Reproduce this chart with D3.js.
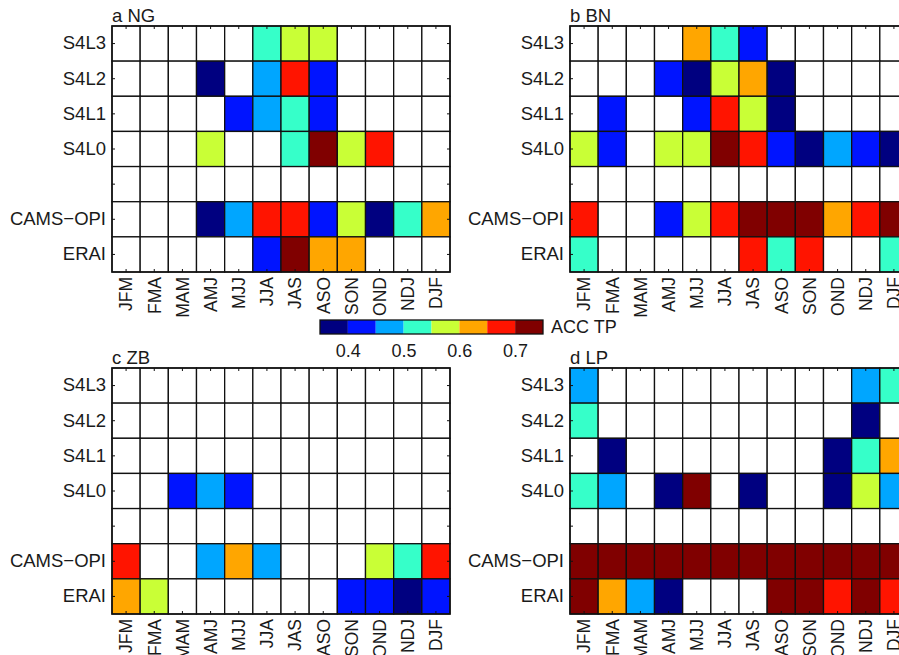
<!DOCTYPE html>
<html lang="en">
<head>
<meta charset="UTF-8">
<title>ACC TP</title>
<script src="https://d3js.org/d3.v7.min.js"></script>
<style>
  body { margin: 0; background: #fff; }
  text { font-family: "Liberation Sans", Arial, Helvetica, sans-serif; fill: #1a1a1a; }
</style>
</head>
<body>
<script>
var N = null;

var seasons = ["JFM", "FMA", "MAM", "AMJ", "MJJ", "JJA", "JAS", "ASO", "SON", "OND", "NDJ", "DJF"];
var rowNames = ["S4L3", "S4L2", "S4L1", "S4L0", "", "CAMS\u2212OPI", "ERAI"];
var colorTicks = [0.4, 0.5, 0.6, 0.7];
var colorDomain = [0.35, 0.75];
var colorRange = ["#000080", "#0014ff", "#00a6ff", "#36ffc9", "#c9ff36", "#ffa600", "#ff1400", "#800000"];

// values read as middle of the colour bins (0.05 wide), null = not significant
var ngValues = [
  [N, N, N, N, N, .525, .575, .575, N, N, N, N],
  [N, N, N, .375, N, .475, .675, .425, N, N, N, N],
  [N, N, N, N, .425, .475, .525, .425, N, N, N, N],
  [N, N, N, .575, N, N, .525, .725, .575, .675, N, N],
  [N, N, N, N, N, N, N, N, N, N, N, N],
  [N, N, N, .375, .475, .675, .675, .425, .575, .375, .525, .625],
  [N, N, N, N, N, .425, .725, .625, .625, N, N, N]
];
var bnValues = [
  [N, N, N, N, .625, .525, .425, N, N, N, N, N],
  [N, N, N, .425, .375, .575, .625, .375, N, N, N, N],
  [N, .425, N, N, .425, .675, .575, .375, N, N, N, N],
  [.575, .425, N, .575, .575, .725, .675, .425, .375, .475, .425, .375],
  [N, N, N, N, N, N, N, N, N, N, N, N],
  [.675, N, N, .425, .575, .675, .725, .725, .725, .625, .675, .725],
  [.525, N, N, N, N, N, .675, .525, .675, N, N, .525]
];
var zbValues = [
  [N, N, N, N, N, N, N, N, N, N, N, N],
  [N, N, N, N, N, N, N, N, N, N, N, N],
  [N, N, N, N, N, N, N, N, N, N, N, N],
  [N, N, .425, .475, .425, N, N, N, N, N, N, N],
  [N, N, N, N, N, N, N, N, N, N, N, N],
  [.675, N, N, .475, .625, .475, N, N, N, .575, .525, .675],
  [.625, .575, N, N, N, N, N, N, .425, .425, .375, .425]
];
var lpValues = [
  [.475, N, N, N, N, N, N, N, N, N, .475, .525],
  [.525, N, N, N, N, N, N, N, N, N, .375, N],
  [N, .375, N, N, N, N, N, N, N, .375, .525, .625],
  [.525, .475, N, .375, .725, N, .375, N, N, .375, .575, .475],
  [N, N, N, N, N, N, N, N, N, N, N, N],
  [.725, .725, .725, .725, .725, .725, .725, .725, .725, .725, .725, .725],
  [.725, .625, .475, .375, N, N, N, .725, .725, .675, .725, .675]
];

var panels = [
  { title: "a NG", values: ngValues, x: 112, y: 26 },
  { title: "b BN", values: bnValues, x: 570, y: 26 },
  { title: "c ZB", values: zbValues, x: 112, y: 368 },
  { title: "d LP", values: lpValues, x: 570, y: 368 }
];

var width = 899, height = 655;
var pw = 338, ph = 246;

var svg = d3.select("body").append("svg")
  .attr("width", width).attr("height", height);

var color = d3.scaleQuantize().domain(colorDomain).range(colorRange);
var x = d3.scaleBand().domain(seasons).range([0, pw]);
var y = d3.scaleBand().domain(d3.range(rowNames.length)).range([0, ph]);

panels.forEach(function(p) {
  var g = svg.append("g").attr("transform", "translate(" + p.x + "," + p.y + ")");

  var cells = [];
  p.values.forEach(function(row, i) {
    row.forEach(function(v, j) { cells.push({ r: i, c: seasons[j], v: v }); });
  });

  g.selectAll("rect.cell")
    .data(cells)
    .enter().append("rect")
    .attr("class", "cell")
    .attr("x", function(d) { return x(d.c); })
    .attr("y", function(d) { return y(d.r); })
    .attr("width", x.bandwidth())
    .attr("height", y.bandwidth())
    .attr("fill", function(d) { return d.v == null ? "#fff" : color(d.v); })
    .attr("stroke", "#111")
    .attr("stroke-width", 1.3);

  g.append("rect")
    .attr("width", pw).attr("height", ph)
    .attr("fill", "none").attr("stroke", "#111").attr("stroke-width", 1.5);

  // row labels + inner ticks
  var left = g.append("g")
    .call(d3.axisLeft(y).tickSize(-3).tickPadding(6).tickFormat(function(i) { return rowNames[i]; }));
  left.select(".domain").remove();
  left.selectAll("text").style("font-size", "18.5px").attr("fill", "#1a1a1a");

  var right = g.append("g").attr("transform", "translate(" + pw + ",0)")
    .call(d3.axisRight(y).tickSize(-3).tickFormat(""));
  right.select(".domain").remove();

  var top = g.append("g").call(d3.axisTop(x).tickSize(-3).tickFormat(""));
  top.select(".domain").remove();

  var bottom = g.append("g").attr("transform", "translate(0," + ph + ")")
    .call(d3.axisBottom(x).tickSize(-3));
  bottom.select(".domain").remove();
  bottom.selectAll("text")
    .style("font-size", "17.5px")
    .attr("fill", "#1a1a1a")
    .attr("transform", "rotate(-90)")
    .attr("text-anchor", "end")
    .attr("x", -5)
    .attr("y", 0)
    .attr("dy", "0.36em");

  g.selectAll(".tick line").attr("stroke", "#111");

  g.append("text")
    .attr("x", 0).attr("y", -4.5)
    .style("font-size", "18.5px")
    .text(p.title);
});

// colour bar
var cbX = d3.scaleLinear().domain(colorDomain).range([320, 543]);
var cb = svg.append("g");
var bins = colorRange.map(function(c, i) {
  var lo = colorDomain[0] + i * 0.05;
  return { lo: lo, hi: lo + 0.05, c: c };
});
cb.selectAll("rect.bin")
  .data(bins)
  .enter().append("rect")
  .attr("class", "bin")
  .attr("x", function(d) { return cbX(d.lo); })
  .attr("y", 320)
  .attr("width", function(d) { return cbX(d.hi) - cbX(d.lo); })
  .attr("height", 14)
  .attr("fill", function(d) { return d.c; });
cb.append("rect")
  .attr("x", cbX(colorDomain[0])).attr("y", 320)
  .attr("width", cbX(colorDomain[1]) - cbX(colorDomain[0])).attr("height", 14)
  .attr("fill", "none").attr("stroke", "#111").attr("stroke-width", 1.3);

var cbAxis = cb.append("g").attr("transform", "translate(0,334)")
  .call(d3.axisBottom(cbX).tickValues(colorTicks).tickSize(0).tickPadding(10).tickFormat(d3.format(".1f")));
cbAxis.select(".domain").remove();
cbAxis.selectAll("text").style("font-size", "18px").attr("fill", "#1a1a1a");

cb.append("text")
  .attr("x", 551).attr("y", 333)
  .style("font-size", "18px")
  .text("ACC TP");
</script>
</body>
</html>
